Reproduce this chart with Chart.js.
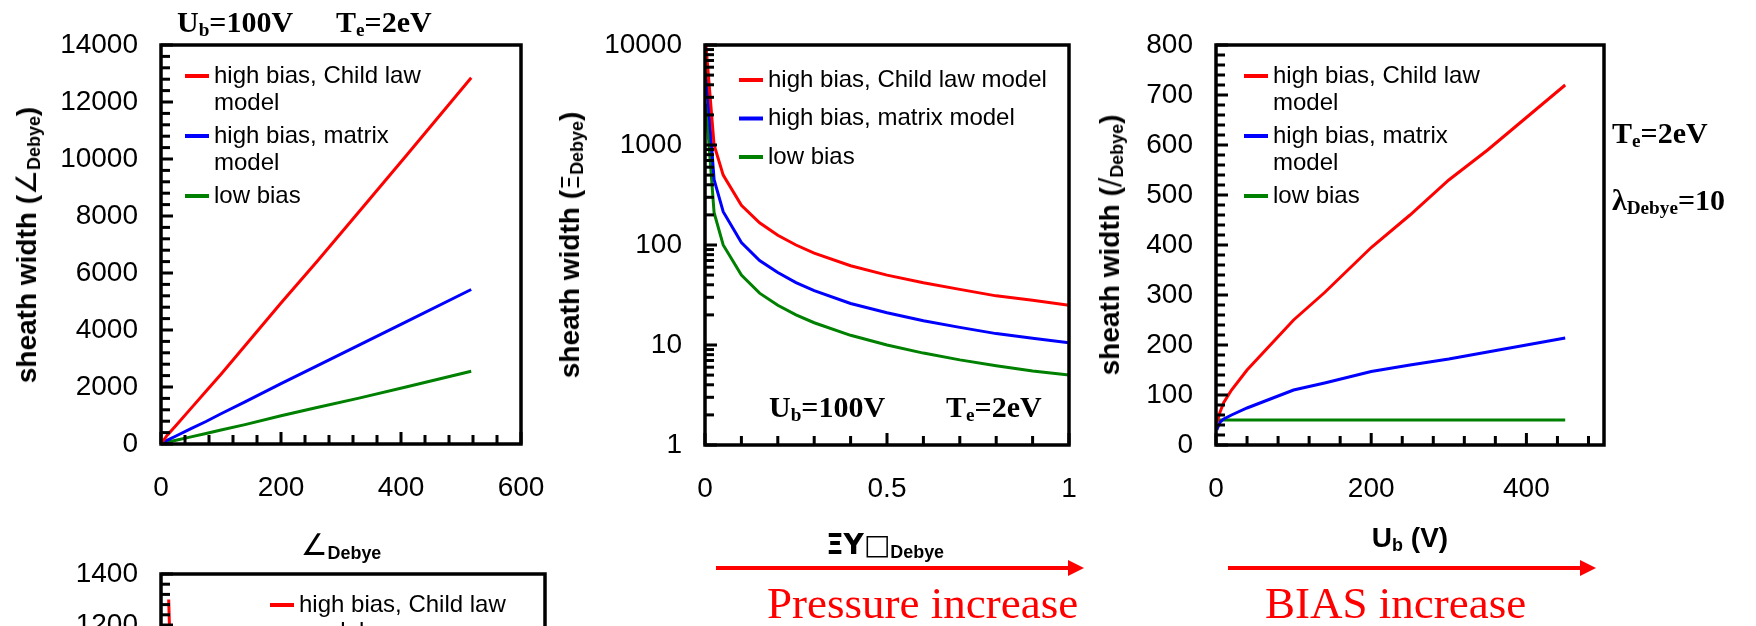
<!DOCTYPE html>
<html>
<head>
<meta charset="utf-8">
<script src="https://cdn.jsdelivr.net/npm/chart.js@4.4.0/dist/chart.umd.min.js"></script>
<style>
html, body { margin: 0; padding: 0; background: #fff; overflow: hidden; width: 1756px; height: 626px; position: relative; }
canvas { position: absolute; left: 0; top: 0; }
.txt { position: absolute; white-space: nowrap; color: #000; line-height: 1; }
.serif { font-family: "Liberation Serif", "Times New Roman", serif; font-weight: bold; font-size: 30px; }
.sans { font-family: "Liberation Sans", Arial, sans-serif; font-weight: bold; font-size: 28px; }
.sub { font-size: 0.64em; position: relative; top: 0.22em; }
.sym { font-family: "DejaVu Sans", sans-serif; font-weight: normal; }
.ytitle { transform: translate(-50%, -50%) rotate(-90deg); }
.xtitle { transform: translate(-50%, -50%); }
.red { font-family: "Liberation Serif", "Times New Roman", serif; font-size: 45px; color: #ff0000; }
</style>
</head>
<body>
<div id="charts"></div>

<!-- axis titles -->
<div class="txt sans ytitle" style="left:27px;top:245px">sheath width (<span class="sym">∠</span><span class="sub">Debye</span>)</div>
<div class="txt sans xtitle" style="left:341px;top:545px"><span class="sym" style="font-size:30px">∠</span><span class="sub">Debye</span></div>
<div class="txt sans ytitle" style="left:570px;top:245px">sheath width (<span class="sym" style="font-size:24px">Ξ</span><span class="sub">Debye</span>)</div>
<div class="txt sans xtitle" style="left:885px;top:545px"><span class="sym" style="font-weight:bold">ΞΥ□</span><span class="sub">Debye</span></div>
<div class="txt sans ytitle" style="left:1110px;top:245px">sheath width (<span class="sym">/</span><span class="sub">Debye</span>)</div>
<div class="txt sans xtitle" style="left:1410px;top:538px">U<span class="sub">b</span> (V)</div>

<!-- annotations -->
<div class="txt serif" style="left:177px;top:7px">U<span class="sub">b</span>=100V</div>
<div class="txt serif" style="left:336px;top:7px">T<span class="sub">e</span>=2eV</div>
<div class="txt serif" style="left:769px;top:392px">U<span class="sub">b</span>=100V</div>
<div class="txt serif" style="left:946px;top:392px">T<span class="sub">e</span>=2eV</div>
<div class="txt serif" style="left:1612px;top:118px">T<span class="sub">e</span>=2eV</div>
<div class="txt serif" style="left:1612px;top:185px">λ<span class="sub">Debye</span>=10</div>

<svg style="position:absolute;left:0;top:540px" width="1756" height="50">
  <line x1="716" y1="28" x2="1070" y2="28" stroke="#ff0000" stroke-width="4"/>
  <polygon points="1068,20 1084,28 1068,36" fill="#ff0000"/>
  <line x1="1228" y1="28" x2="1582" y2="28" stroke="#ff0000" stroke-width="4"/>
  <polygon points="1580,20 1596,28 1580,36" fill="#ff0000"/>
</svg>
<div class="txt red" style="left:767px;top:581px">Pressure increase</div>
<div class="txt red" style="left:1265px;top:581px">BIAS increase</div>

<script>
// sheath width vs lambda_Debye (Ub = 100 V, Te = 2 eV)
const lamX      = [0, 10, 25, 50, 75, 100, 140, 200, 260, 330, 410, 517];
const lamChild  = [0, 300, 650, 1250, 1850, 2450, 3450, 4950, 6400, 8150, 10150, 12850];
const lamMatrix = [0, 130, 280, 540, 790, 1060, 1480, 2120, 2740, 3470, 4300, 5420];
const lamLow    = [0, 60, 130, 250, 370, 490, 680, 990, 1280, 1610, 2010, 2550];

// sheath width vs collision parameter (log scale)
const nuX      = [0.0025, 0.025, 0.05, 0.1, 0.15, 0.2, 0.25, 0.3, 0.4, 0.5, 0.6, 0.7, 0.8, 0.9, 1];
const nuChild  = [10000, 1000, 500, 250, 167, 125, 100, 83, 62, 50, 42, 36, 31, 28, 25];
const nuMatrix = [5400, 450, 215, 106, 70, 53, 42, 35, 26, 21, 17.5, 15, 13, 11.7, 10.5];
const nuLow    = [2600, 210, 100, 50, 33, 25, 20, 16.7, 12.5, 10, 8.3, 7.1, 6.2, 5.5, 5];

// sheath width vs bias voltage
const ubX      = [1, 5, 10, 20, 40, 70, 100, 140, 200, 250, 300, 350, 400, 450];
const ubChild  = [45, 65, 85, 110, 150, 200, 250, 305, 395, 460, 530, 590, 655, 720];
const ubMatrix = [30, 45, 52, 60, 74, 92, 110, 124, 147, 160, 172, 186, 200, 214];
const ubLow    = [50, 50, 50, 50, 50, 50, 50, 50, 50, 50, 50, 50, 50, 50];

// fourth panel (mostly below the visible area)
const bX      = [0.02, 0.025, 0.05, 0.1, 0.2, 0.5, 1];
const bChild  = [1300, 1040, 520, 260, 130, 52, 26];
const bMatrix = [560, 450, 220, 110, 55, 22, 11];
const bLow    = [270, 210, 105, 52, 26, 10, 5];

const seriesLabels = ['high bias, Child law model', 'high bias, matrix model', 'low bias'];
const seriesColors = ['#ff0000', '#0000ff', '#008000'];

const tickFont = { family: '"Liberation Sans", Arial, sans-serif', size: 28 };

function wrapWords(ctx, text, maxW) {
    const words = text.split(' ');
    const lines = [];
    let cur = '';
    words.forEach(w => {
        const t = cur ? cur + ' ' + w : w;
        if (cur && ctx.measureText(t).width > maxW) {
            lines.push(cur);
            cur = w;
        } else {
            cur = t;
        }
    });
    if (cur) lines.push(cur);
    return lines;
}

// tick positions along an axis: [value, isMajor]
function linearTicks(min, max, minor, major) {
    const out = [];
    const n = Math.floor((max - min) / minor + 1e-6);
    for (let i = 0; i <= n; i++) {
        const v = min + i * minor;
        const r = v / major;
        out.push([v, Math.abs(r - Math.round(r)) < 1e-6]);
    }
    return out;
}

function logTicks(min, max) {
    const out = [];
    const d0 = Math.round(Math.log10(min));
    const d1 = Math.round(Math.log10(max));
    for (let d = d0; d < d1; d++) {
        for (let k = 1; k <= 9; k++) out.push([k * Math.pow(10, d), k === 1]);
    }
    out.push([max, true]);
    return out;
}

// box frame, inward tick marks on left and bottom, then the in-plot legend
const panelDecor = {
    id: 'panelDecor',
    afterDraw(chart) {
        const o = chart.$decor;
        const ctx = chart.ctx;
        const a = chart.chartArea;
        const xs = chart.scales.x, ys = chart.scales.y;

        ctx.save();
        ctx.fillStyle = '#000';
        linearTicks(o.x.min, o.x.max, o.xMinor, o.xMajor).forEach(t => {
            const px = xs.getPixelForValue(t[0]);
            const len = t[1] ? 12 : 9;
            ctx.fillRect(px - 1.5, a.bottom - len, 3, len);
        });
        const yt = o.y.log ? logTicks(o.y.min, o.y.max) : linearTicks(o.y.min, o.y.max, o.yMinor, o.yMajor);
        yt.forEach(t => {
            const py = ys.getPixelForValue(t[0]);
            const len = t[1] ? 12 : 9;
            ctx.fillRect(a.left, py - 1.5, len, 3);
        });
        ctx.strokeStyle = '#000';
        ctx.lineWidth = 3.5;
        ctx.strokeRect(a.left, a.top, a.right - a.left, a.bottom - a.top);

        const lg = o.legend;
        ctx.font = '24px "Liberation Sans", Arial, sans-serif';
        ctx.textBaseline = 'middle';
        let y = lg.y;
        chart.data.datasets.forEach(ds => {
            ctx.strokeStyle = ds.borderColor;
            ctx.lineWidth = 4;
            ctx.beginPath();
            ctx.moveTo(lg.x, y);
            ctx.lineTo(lg.x + 24, y);
            ctx.stroke();
            const lines = wrapWords(ctx, ds.label, lg.maxWidth);
            lines.forEach((ln, i) => ctx.fillText(ln, lg.x + 29, y + i * lg.lineH));
            y += (lines.length - 1) * lg.lineH + lg.gap;
        });
        ctx.restore();
    }
};

function makeSeries(xs, ys, i) {
    return {
        label: seriesLabels[i],
        data: xs.map((x, k) => ({ x: x, y: ys[k] })),
        borderColor: seriesColors[i],
        backgroundColor: seriesColors[i],
        borderWidth: 3,
        pointRadius: 0,
        tension: 0,
        fill: false
    };
}

// box: plot area in page pixels; the canvas is page sized so padding never binds
function sheathChart(box, xs, sets, decor) {
    const canvas = document.createElement('canvas');
    canvas.width = 1756;
    canvas.height = box.h || 626;
    document.getElementById('charts').appendChild(canvas);
    const yW = 100, xH = box.xH || 80;
    const yScale = {
        type: decor.y.log ? 'logarithmic' : 'linear',
        min: decor.y.min,
        max: decor.y.max,
        grid: { display: false, drawTicks: false },
        border: { display: false },
        afterFit: s => { s.width = yW; },
        ticks: {
            stepSize: decor.y.step,
            autoSkip: false,
            padding: 23,
            color: '#000',
            font: tickFont,
            callback: v => String(v)
        }
    };
    if (decor.y.log) {
        yScale.afterBuildTicks = s => { s.ticks = decor.y.decades.map(v => ({ value: v })); };
    }
    return new Chart(canvas, {
        type: 'line',
        data: { datasets: sets.map((ys, i) => makeSeries(xs, ys, i)) },
        options: {
            responsive: false,
            animation: false,
            layout: {
                padding: {
                    left: box.left - yW,
                    top: box.top,
                    right: canvas.width - box.right,
                    bottom: canvas.height - box.bottom - xH
                }
            },
            scales: {
                x: {
                    type: 'linear',
                    min: decor.x.min,
                    max: decor.x.max,
                    grid: { display: false, drawTicks: false },
                    border: { display: false },
                    afterFit: s => { s.height = xH; },
                    ticks: {
                        stepSize: decor.x.step,
                        includeBounds: false,
                        autoSkip: false,
                        maxRotation: 0,
                        minRotation: 0,
                        padding: 27,
                        color: '#000',
                        font: tickFont,
                        callback: v => String(Math.round(v * 1000) / 1000)
                    }
                },
                y: yScale
            },
            plugins: {
                legend: { display: false },
                tooltip: { enabled: false }
            }
        },
        plugins: [{ id: 'decorCfg', beforeInit(c) { c.$decor = decor; } }, panelDecor]
    });
}

sheathChart({ left: 161, right: 521, top: 45, bottom: 444 }, lamX,
    [lamChild, lamMatrix, lamLow],
    { x: { min: 0, max: 600, step: 200 }, y: { min: 0, max: 14000, step: 2000 },
      xMinor: 40, xMajor: 200, yMinor: 400, yMajor: 2000,
      legend: { x: 185, y: 76, lineH: 27, gap: 33, maxWidth: 240 } });

sheathChart({ left: 705, right: 1069, top: 45, bottom: 445 }, nuX,
    [nuChild, nuMatrix, nuLow],
    { x: { min: 0, max: 1, step: 0.5 }, y: { min: 1, max: 10000, log: true, decades: [1, 10, 100, 1000, 10000] },
      xMinor: 0.1, xMajor: 0.5,
      legend: { x: 739, y: 80, lineH: 27, gap: 38.5, maxWidth: 400 } });

sheathChart({ left: 1216, right: 1604, top: 45, bottom: 445 }, ubX,
    [ubChild, ubMatrix, ubLow],
    { x: { min: 0, max: 500, step: 200 }, y: { min: 0, max: 800, step: 100 },
      xMinor: 40, xMajor: 200, yMinor: 20, yMajor: 100,
      legend: { x: 1244, y: 76, lineH: 27, gap: 33, maxWidth: 240 } });

sheathChart({ left: 161, right: 545, top: 574, bottom: 931, xH: 60, h: 1000 }, bX,
    [bChild, bMatrix, bLow],
    { x: { min: 0, max: 1, step: 0.5 }, y: { min: 0, max: 1400, step: 200 },
      xMinor: 0.1, xMajor: 0.5, yMinor: 40, yMajor: 200,
      legend: { x: 270, y: 605, lineH: 27, gap: 33, maxWidth: 240 } });
</script>
</body>
</html>
